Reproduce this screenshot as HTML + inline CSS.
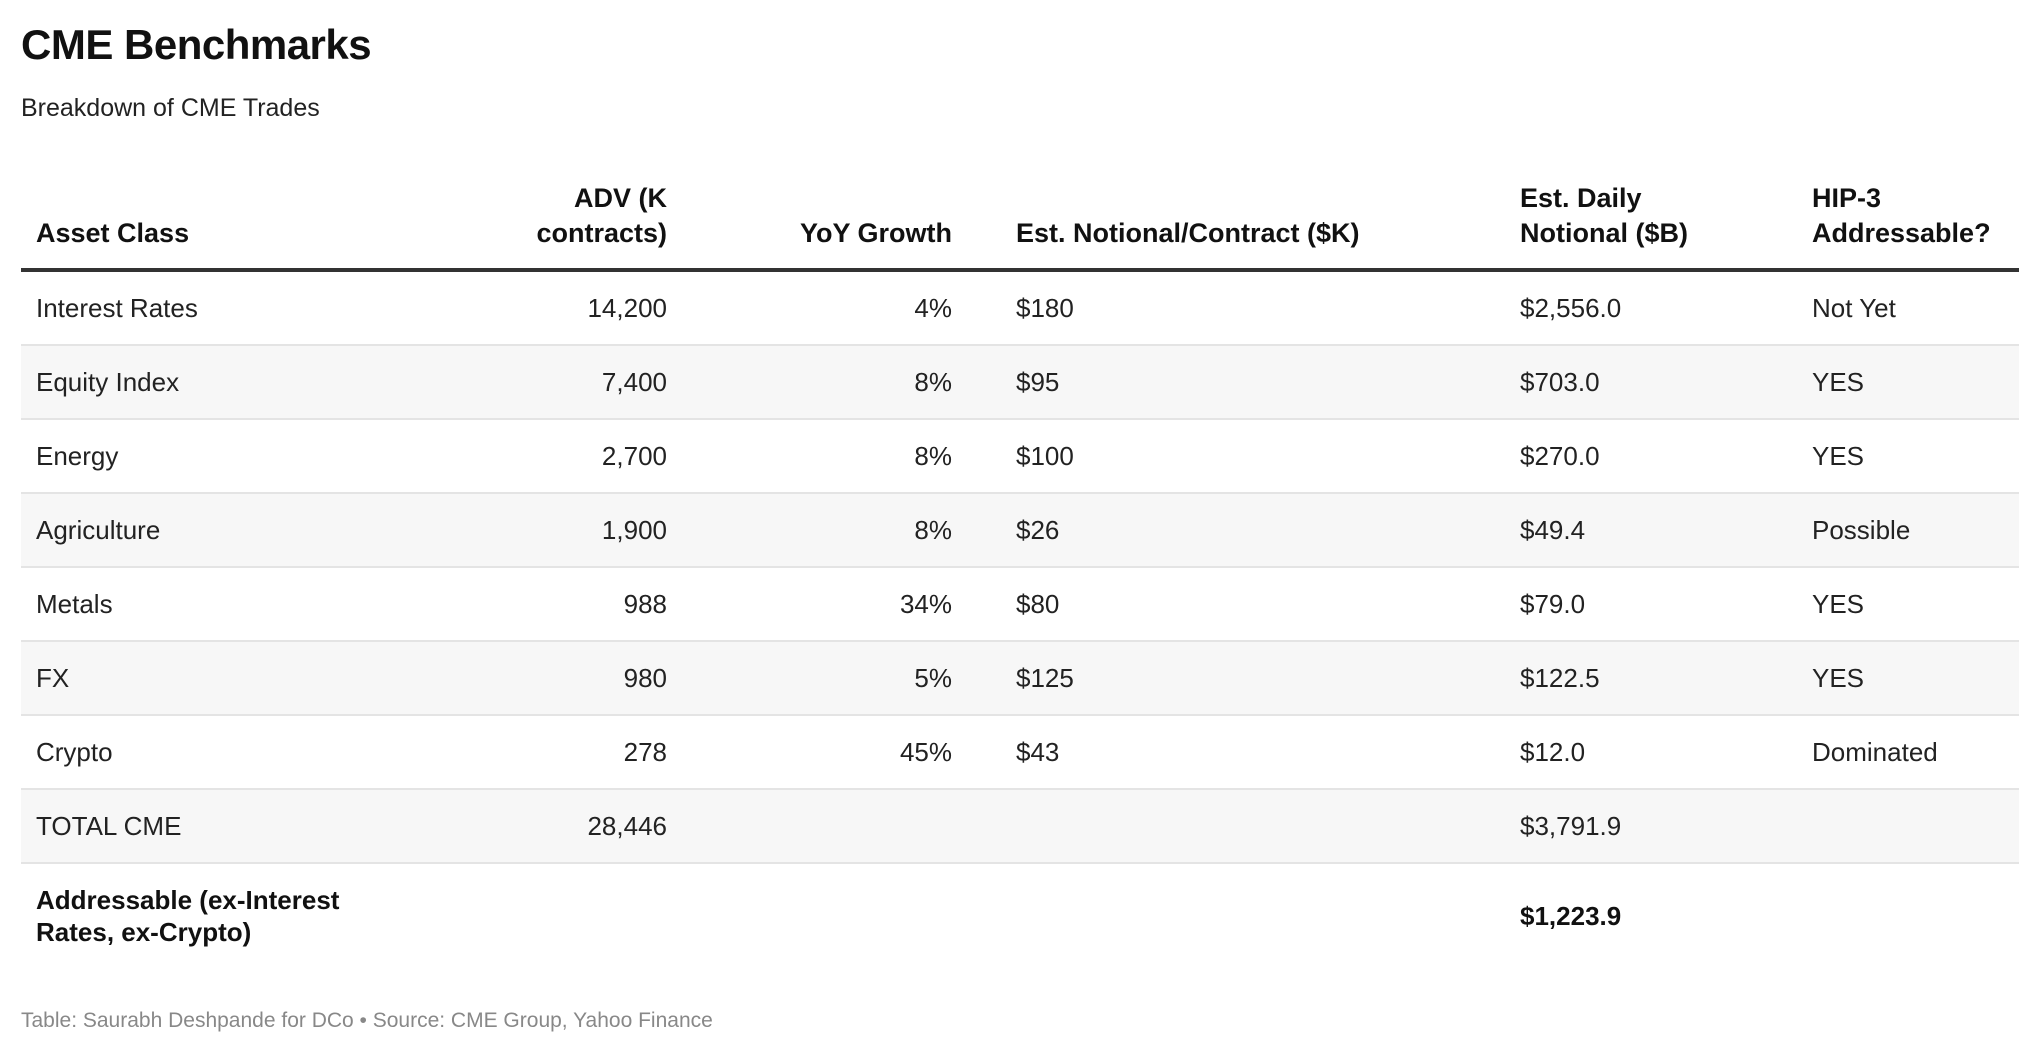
<!DOCTYPE html>
<html><head><meta charset="utf-8"><style>
body{margin:0;width:2040px;height:1054px;background:#fff;font-family:"Liberation Sans",Arial,sans-serif;color:#222;position:relative;overflow:hidden}
.a{position:absolute;white-space:nowrap}
.t{left:21px;top:21px;font-size:42px;font-weight:bold;color:#111;letter-spacing:-0.5px}
.s{left:21px;top:94px;font-size:25px;color:#222}
.h{font-weight:bold;font-size:27px;color:#111;line-height:35px}
.r{position:absolute;left:21px;width:1998px;height:74px;border-bottom:2px solid #e4e4e4;box-sizing:border-box}
.g{background:#f7f7f7}
.c{position:absolute;font-size:26px;color:#222;white-space:nowrap;line-height:30px}
.R{text-align:right}
.f{left:21px;top:1009px;font-size:21px;color:#888}
</style></head><body>
<div class="a t">CME Benchmarks</div>
<div class="a s">Breakdown of CME Trades</div>

<div class="a h" style="left:36px;top:216px">Asset Class</div>
<div class="a h R" style="right:1373px;top:181px">ADV (K<br>contracts)</div>
<div class="a h R" style="right:1088px;top:216px">YoY Growth</div>
<div class="a h" style="left:1016px;top:216px">Est. Notional/Contract ($K)</div>
<div class="a h" style="left:1520px;top:181px">Est. Daily<br>Notional ($B)</div>
<div class="a h" style="left:1812px;top:181px">HIP-3<br>Addressable?</div>
<div class="a" style="left:21px;top:268px;width:1998px;height:4px;background:#333"></div>

<div class="r" style="top:272px"></div>
<div class="r g" style="top:346px"></div>
<div class="r" style="top:420px"></div>
<div class="r g" style="top:494px"></div>
<div class="r" style="top:568px"></div>
<div class="r g" style="top:642px"></div>
<div class="r" style="top:716px"></div>
<div class="r g" style="top:790px"></div>

<div id="rows"></div>
<script>
var d=[["Interest Rates","14,200","4%","$180","$2,556.0","Not Yet"],
["Equity Index","7,400","8%","$95","$703.0","YES"],
["Energy","2,700","8%","$100","$270.0","YES"],
["Agriculture","1,900","8%","$26","$49.4","Possible"],
["Metals","988","34%","$80","$79.0","YES"],
["FX","980","5%","$125","$122.5","YES"],
["Crypto","278","45%","$43","$12.0","Dominated"],
["TOTAL CME","28,446","","","$3,791.9",""]];
var h="";
d.forEach(function(r,i){var y=272+74*i+21;
h+='<div class="c" style="left:36px;top:'+y+'px">'+r[0]+'</div>';
h+='<div class="c R" style="right:1373px;top:'+y+'px">'+r[1]+'</div>';
h+='<div class="c R" style="right:1088px;top:'+y+'px">'+r[2]+'</div>';
h+='<div class="c" style="left:1016px;top:'+y+'px">'+r[3]+'</div>';
h+='<div class="c" style="left:1520px;top:'+y+'px">'+r[4]+'</div>';
h+='<div class="c" style="left:1812px;top:'+y+'px">'+r[5]+'</div>';});
document.getElementById("rows").innerHTML=h;
</script>
<div class="c" style="left:36px;top:884px;font-weight:bold;color:#111;line-height:32px">Addressable (ex-Interest<br>Rates, ex-Crypto)</div>
<div class="c" style="left:1520px;top:901px;font-weight:bold;color:#111">$1,223.9</div>
<div class="a f">Table: Saurabh Deshpande for DCo • Source: CME Group, Yahoo Finance</div>
</body></html>
